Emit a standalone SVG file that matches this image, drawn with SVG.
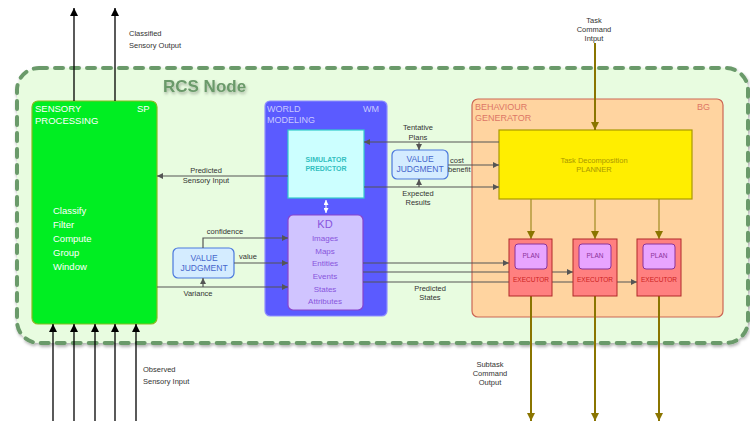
<svg xmlns="http://www.w3.org/2000/svg" width="750" height="421" viewBox="0 0 750 421">
<defs>
<marker id="ab" viewBox="0 0 10 10" refX="10" refY="5" markerWidth="8" markerHeight="8" markerUnits="userSpaceOnUse" orient="auto"><path d="M0,0 L10,5 L0,10 Z" fill="#000"/></marker>
<marker id="ag" viewBox="0 0 10 10" refX="10" refY="5" markerWidth="7" markerHeight="6" markerUnits="userSpaceOnUse" orient="auto"><path d="M0,0 L10,5 L0,10 Z" fill="#555"/></marker>
<marker id="ao" viewBox="0 0 10 10" refX="10" refY="5" markerWidth="9" markerHeight="8" markerUnits="userSpaceOnUse" orient="auto"><path d="M0,0 L10,5 L0,10 Z" fill="#8a7500"/></marker>
<marker id="aw" viewBox="0 0 10 10" refX="10" refY="5" markerWidth="5" markerHeight="5" markerUnits="userSpaceOnUse" orient="auto-start-reverse"><path d="M0,0 L10,5 L0,10 Z" fill="#fff"/></marker>
<filter id="sh" x="-5%" y="-5%" width="110%" height="115%"><feDropShadow dx="1" dy="2" stdDeviation="1.5" flood-color="#000" flood-opacity="0.3"/></filter>
</defs>
<style>
text{font-family:"Liberation Sans",Arial,sans-serif}
.lbl{font-size:7.5px;fill:#333;text-anchor:middle}
.lbll{font-size:7.5px;fill:#333}
.bl{stroke:#000;stroke-width:1.3;fill:none}
.gl{stroke:#555;stroke-width:1.2;fill:none}
.ol{stroke:#8a7500;stroke-width:2;fill:none}
.olt{stroke:#a08a20;stroke-width:1.2;fill:none}
.vj{fill:#d4ecff;stroke:#4a78dd;stroke-width:1.2}
.vjt{font-size:8.5px;fill:#4466cc;text-anchor:middle}
.ex{fill:#ff8080;stroke:#b02828;stroke-width:1}
.pl{fill:#e8a4ff;stroke:#8a3399;stroke-width:1}
.plt{font-size:6.5px;fill:#8a3399;text-anchor:middle}
.ext{font-size:6.5px;fill:#cc2222;text-anchor:middle}
.kdt{font-size:8px;fill:#8855dd;text-anchor:middle}
.spt{font-size:9.5px;fill:#fff}
</style>
<rect width="750" height="421" fill="#fff"/>
<g id="rcs-node">
<rect x="17" y="68" width="731" height="275" rx="22" fill="#e8fce0" stroke="#6b9a6b" stroke-width="4" stroke-dasharray="8,8" stroke-linecap="round" filter="url(#sh)"/>
<text x="163" y="92" font-size="17" font-weight="bold" fill="#6b9a6b" filter="url(#sh)">RCS Node</text>
</g>
<g id="sp">
<rect x="32" y="101" width="125" height="223" rx="6" fill="#00ee22" stroke="#88bb22" stroke-width="1.2"/>
<text x="35" y="112" class="spt">SENSORY</text>
<text x="35" y="124" class="spt">PROCESSING</text>
<text x="137" y="112" class="spt">SP</text>
<text x="53" y="214" class="spt">Classify</text>
<text x="53" y="228" class="spt">Filter</text>
<text x="53" y="242" class="spt">Compute</text>
<text x="53" y="256" class="spt">Group</text>
<text x="53" y="270" class="spt">Window</text>
</g>
<g id="wm">
<rect x="265" y="101" width="122" height="215" rx="5" fill="#5b5bff" stroke="#8f8fff" stroke-width="1.2"/>
<text x="267" y="112" font-size="9" fill="#c8c8ff">WORLD</text>
<text x="267" y="123" font-size="9" fill="#c8c8ff">MODELING</text>
<text x="363" y="112" font-size="9" fill="#c8c8ff">WM</text>
</g>
<g id="simulator">
<rect x="288" y="130" width="76" height="68" fill="#ccffff" stroke="#33cccc" stroke-width="1.2"/>
<text x="326" y="162" font-size="7" font-weight="bold" fill="#33c0c0" text-anchor="middle">SIMULATOR</text>
<text x="326" y="171" font-size="7" font-weight="bold" fill="#33c0c0" text-anchor="middle">PREDICTOR</text>
</g>
<g id="kd">
<rect x="288" y="215" width="75" height="95" rx="5" fill="#d0c4ff" stroke="#8844cc" stroke-width="1.2"/>
<text x="325" y="228" font-size="11" fill="#8855dd" text-anchor="middle">KD</text>
<text x="325" y="241" class="kdt">Images</text>
<text x="325" y="254" class="kdt">Maps</text>
<text x="325" y="266" class="kdt">Entities</text>
<text x="325" y="279" class="kdt">Events</text>
<text x="325" y="292" class="kdt">States</text>
<text x="325" y="304" class="kdt">Attributes</text>
</g>
<g id="bg">
<rect x="472" y="99" width="251" height="218" rx="6" fill="#ffd4a0" stroke="#cc6655" stroke-width="1.2"/>
<text x="475" y="110" font-size="9" fill="#dd7766">BEHAVIOUR</text>
<text x="475" y="121" font-size="9" fill="#dd7766">GENERATOR</text>
<text x="697" y="110" font-size="9" fill="#dd7766">BG</text>
</g>
<g id="planner">
<rect x="499" y="130" width="193" height="69" fill="#ffee00" stroke="#aa9900" stroke-width="1.2"/>
<text x="594" y="163" font-size="7.5" fill="#aa9900" text-anchor="middle">Task Decomposition</text>
<text x="594" y="172" font-size="7.5" fill="#aa9900" text-anchor="middle">PLANNER</text>
</g>
<g id="vj-left">
<rect x="173" y="248" width="61" height="30" rx="5" class="vj"/>
<text x="204" y="261" class="vjt">VALUE</text>
<text x="204" y="271" class="vjt">JUDGMENT</text>
</g>
<g id="vj-right">
<rect x="392" y="150" width="56" height="29" rx="5" class="vj"/>
<text x="420" y="162" class="vjt">VALUE</text>
<text x="420" y="172" class="vjt">JUDGMENT</text>
</g>
<g id="connectors">
<line x1="74" y1="101" x2="74" y2="8" class="bl" marker-end="url(#ab)"/>
<line x1="115" y1="101" x2="115" y2="8" class="bl" marker-end="url(#ab)"/>
<line x1="53" y1="421" x2="53" y2="324" class="bl" marker-end="url(#ab)"/>
<line x1="74" y1="421" x2="74" y2="324" class="bl" marker-end="url(#ab)"/>
<line x1="95" y1="421" x2="95" y2="324" class="bl" marker-end="url(#ab)"/>
<line x1="115" y1="421" x2="115" y2="324" class="bl" marker-end="url(#ab)"/>
<line x1="136" y1="421" x2="136" y2="324" class="bl" marker-end="url(#ab)"/>
<line x1="288" y1="176" x2="157" y2="176" class="gl" marker-end="url(#ag)"/>
<line x1="499" y1="142" x2="364" y2="142" class="gl" marker-end="url(#ag)"/>
<line x1="419" y1="142" x2="419" y2="150" class="gl" marker-end="url(#ag)"/>
<line x1="448" y1="165" x2="499" y2="165" class="gl" marker-end="url(#ag)"/>
<line x1="364" y1="187" x2="499" y2="187" class="gl" marker-end="url(#ag)"/>
<line x1="419" y1="187" x2="419" y2="179" class="gl" marker-end="url(#ag)"/>
<polyline points="203,248 203,238 288,238" class="gl" marker-end="url(#ag)"/>
<line x1="234" y1="263" x2="288" y2="263" class="gl" marker-end="url(#ag)"/>
<line x1="157" y1="287" x2="288" y2="287" class="gl" marker-end="url(#ag)"/>
<line x1="203" y1="287" x2="203" y2="278" class="gl" marker-end="url(#ag)"/>
<line x1="326" y1="200" x2="326" y2="213" stroke="#fff" stroke-width="1" marker-end="url(#aw)" marker-start="url(#aw)"/>
<line x1="363" y1="263" x2="509" y2="263" class="gl" marker-end="url(#ag)"/>
<line x1="363" y1="272" x2="573" y2="272" class="gl" marker-end="url(#ag)"/>
<line x1="363" y1="282" x2="637" y2="282" class="gl" marker-end="url(#ag)"/>
<line x1="595" y1="43" x2="595" y2="130" class="ol" marker-end="url(#ao)"/>
<line x1="531" y1="199" x2="531" y2="239" class="olt" marker-end="url(#ao)"/>
<line x1="595" y1="199" x2="595" y2="239" class="olt" marker-end="url(#ao)"/>
<line x1="659" y1="199" x2="659" y2="239" class="olt" marker-end="url(#ao)"/>
<line x1="531" y1="296" x2="531" y2="421" class="ol" marker-end="url(#ao)"/>
<line x1="595" y1="296" x2="595" y2="421" class="ol" marker-end="url(#ao)"/>
<line x1="659" y1="296" x2="659" y2="421" class="ol" marker-end="url(#ao)"/>
</g>
<g id="exec1">
<rect x="509" y="239" width="43" height="57" class="ex"/>
<rect x="515" y="244" width="32" height="25" rx="3" class="pl"/>
<text x="531" y="258" class="plt">PLAN</text>
<text x="531" y="282" class="ext">EXECUTOR</text>
</g>
<g id="exec2">
<rect x="573" y="239" width="44" height="57" class="ex"/>
<rect x="579" y="244" width="32" height="25" rx="3" class="pl"/>
<text x="595" y="258" class="plt">PLAN</text>
<text x="595" y="282" class="ext">EXECUTOR</text>
</g>
<g id="exec3">
<rect x="637" y="239" width="44" height="57" class="ex"/>
<rect x="643" y="244" width="32" height="25" rx="3" class="pl"/>
<text x="659" y="258" class="plt">PLAN</text>
<text x="659" y="282" class="ext">EXECUTOR</text>
</g>
<g id="labels">
<text x="129" y="36" class="lbll">Classified</text>
<text x="129" y="48" class="lbll">Sensory Output</text>
<text x="143" y="372" class="lbll">Observed</text>
<text x="143" y="384" class="lbll">Sensory Input</text>
<text x="594" y="23" class="lbl">Task</text>
<text x="594" y="32" class="lbl">Command</text>
<text x="594" y="41" class="lbl">Intput</text>
<text x="490" y="367" class="lbl">Subtask</text>
<text x="490" y="376" class="lbl">Command</text>
<text x="490" y="385" class="lbl">Output</text>
<text x="206" y="173" class="lbl">Predicted</text>
<text x="206" y="183" class="lbl">Sensory Input</text>
<text x="418" y="130" class="lbl">Tentative</text>
<text x="418" y="140" class="lbl">Plans</text>
<text x="450" y="163" class="lbll">cost</text>
<text x="448" y="172" class="lbll">benefit</text>
<text x="418" y="196" class="lbl">Expected</text>
<text x="418" y="205" class="lbl">Results</text>
<text x="225" y="234" class="lbl">confidence</text>
<text x="248" y="259" class="lbl">value</text>
<text x="198" y="296" class="lbl">Variance</text>
<text x="430" y="291" class="lbl">Predicted</text>
<text x="430" y="300" class="lbl">States</text>
</g>
</svg>
